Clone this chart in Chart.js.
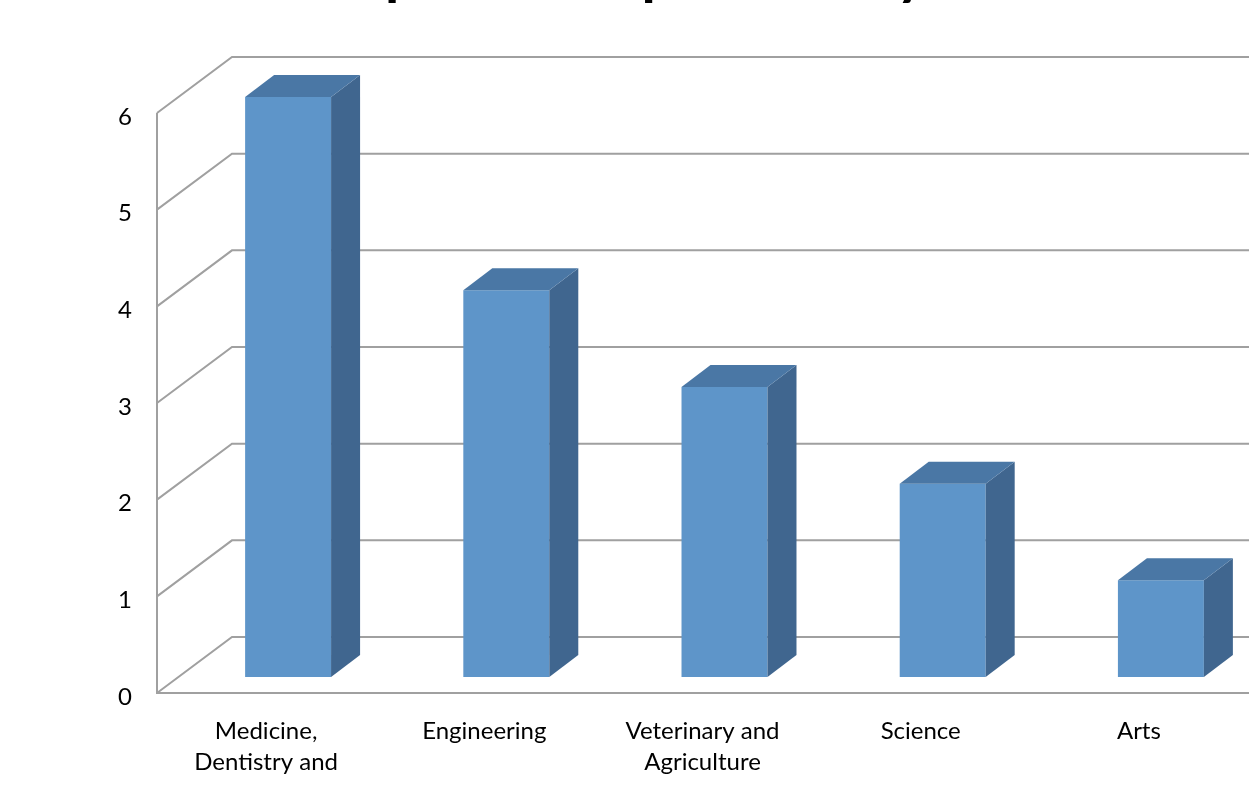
<!DOCTYPE html>
<html>
<head>
<meta charset="utf-8">
<script src="https://cdn.jsdelivr.net/npm/chart.js@4.4.1/dist/chart.umd.min.js"></script>
<style>
  html, body { margin: 0; padding: 0; background: #fff; overflow: hidden; }
  #wrap { position: absolute; left: 0; top: 0; width: 1300px; height: 900px; }
</style>
</head>
<body>
<div id="wrap"><canvas id="chart" width="1300" height="900"></canvas></div>
<script>
// chart data
const titleText  = 'Respondents per Faculty';
const categories = [
  ['Medicine,', 'Dentistry and', 'Health Sciences'],
  'Engineering',
  ['Veterinary and', 'Agriculture'],
  'Science',
  'Arts'
];
const counts     = [6, 4, 3, 2, 1];
const yTicks     = [0, 1, 2, 3, 4, 5, 6];

// 3D look: offsets of the floor/walls relative to the bar plane
const FRONT  = { dx: -22, dy: 16 };
const BACK   = { dx: 53,  dy: -40 };
const DEPTH  = { dx: 29,  dy: -22 };

const FRONT_COL = '#5e95c9';
const SIDE_COL  = '#40668f';
const TOP_COL   = '#4a77a5';
const GRID_COL  = '#a0a0a0';

const threeD = {
  id: 'threeD',
  beforeDatasetsDraw(chart) {
    const { ctx, chartArea, scales: { y } } = chart;
    const L = chartArea.left;
    ctx.save();
    ctx.strokeStyle = GRID_COL;
    ctx.lineWidth = 2;
    yTicks.forEach(v => {
      const py = y.getPixelForValue(v);
      ctx.beginPath();
      ctx.moveTo(L + FRONT.dx, py + FRONT.dy);
      ctx.lineTo(L + BACK.dx, py + BACK.dy);
      ctx.lineTo(chart.width, py + BACK.dy);
      ctx.stroke();
    });
    // front axis + floor edge
    const y0 = y.getPixelForValue(0) + FRONT.dy;
    const y6 = y.getPixelForValue(6) + FRONT.dy;
    ctx.beginPath();
    ctx.moveTo(L + FRONT.dx, y6);
    ctx.lineTo(L + FRONT.dx, y0);
    ctx.lineTo(chart.width, y0);
    ctx.stroke();
    ctx.restore();
  },
  afterDatasetsDraw(chart) {
    const { ctx } = chart;
    const meta = chart.getDatasetMeta(0);
    ctx.save();
    meta.data.forEach(bar => {
      const half = bar.width / 2;
      const l = bar.x - half, r = bar.x + half;
      const t = bar.y, b = bar.base;
      // side face
      ctx.fillStyle = SIDE_COL;
      ctx.beginPath();
      ctx.moveTo(r, t);
      ctx.lineTo(r + DEPTH.dx, t + DEPTH.dy);
      ctx.lineTo(r + DEPTH.dx, b + DEPTH.dy);
      ctx.lineTo(r, b);
      ctx.closePath();
      ctx.fill();
      // top face
      ctx.fillStyle = TOP_COL;
      ctx.beginPath();
      ctx.moveTo(l, t);
      ctx.lineTo(l + DEPTH.dx, t + DEPTH.dy);
      ctx.lineTo(r + DEPTH.dx, t + DEPTH.dy);
      ctx.lineTo(r, t);
      ctx.closePath();
      ctx.fill();
    });
    ctx.restore();
  },
  afterDraw(chart) {
    // title sits mostly above the visible page, only descenders show
    const { ctx } = chart;
    ctx.save();
    ctx.fillStyle = '#000';
    ctx.font = 'bold 58px Lato, sans-serif';
    ctx.textAlign = 'center';
    ctx.textBaseline = 'alphabetic';
    ctx.fillText(titleText, 610, -7);
    ctx.restore();
  }
};

new Chart(document.getElementById('chart'), {
  type: 'bar',
  data: {
    labels: categories,
    datasets: [{
      data: counts,
      backgroundColor: FRONT_COL,
      borderWidth: 0,
      categoryPercentage: 1,
      barPercentage: 0.394
    }]
  },
  options: {
    responsive: false,
    animation: false,
    layout: { padding: { top: 97, bottom: 123, left: 0, right: 30 } },
    plugins: {
      legend: { display: false },
      tooltip: { enabled: false }
    },
    scales: {
      x: {
        grid: { display: false, drawTicks: false },
        border: { display: false },
        ticks: {
          color: '#000',
          font: { family: 'Lato, sans-serif', size: 24, lineHeight: 1.32 },
          padding: 38,
          labelOffset: -22,
          maxRotation: 0,
          autoSkip: false
        },
        afterFit: s => { s.height = 100; }
      },
      y: {
        min: 0,
        max: 6,
        grid: { display: false, drawTicks: false },
        border: { display: false },
        ticks: {
          stepSize: 1,
          color: '#000',
          font: { family: 'Lato, sans-serif', size: 24 },
          padding: 47,
          labelOffset: 20
        },
        afterFit: s => { s.width = 179; }
      }
    }
  },
  plugins: [threeD]
});
</script>
</body>
</html>
